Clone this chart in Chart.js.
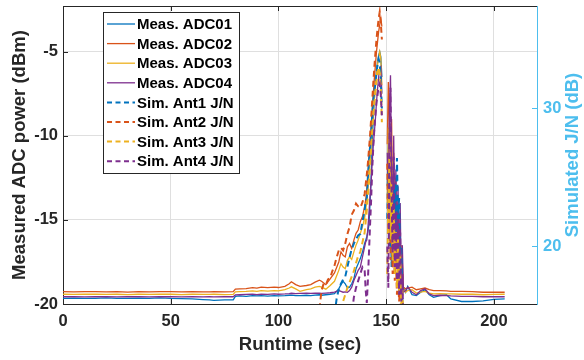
<!DOCTYPE html>
<html>
<head>
<meta charset="utf-8">
<script src="https://cdn.jsdelivr.net/npm/chart.js@4.4.1/dist/chart.umd.min.js"></script>
<style>
  html, body { margin: 0; padding: 0; background: #fff; }
  #wrap { width: 584px; height: 360px; position: relative; }
</style>
</head>
<body>
<div id="wrap"><canvas id="chart"></canvas></div>
<script>
// values
const runtime = [
  0, 5, 10, 15, 20, 25, 30, 35, 40, 45, 50, 55, 60, 65,
  68, 70, 75, 79, 80, 82, 85, 88, 90, 92, 95, 98, 100, 103, 105, 106, 108, 110, 113, 115, 117, 119, 120, 122, 124, 126, 128,
  129, 130, 131, 132, 133, 134, 135, 136, 137, 138, 139,
  140, 140.5, 141, 141.5, 142, 142.5, 143, 143.5, 144, 144.5,
  145, 145.5, 146, 146.5, 147, 147.5, 148, 148.5, 149, 149.5,
  150, 150.5, 151, 151.5, 152, 152.5, 153, 153.5, 154, 154.5,
  155, 155.5, 156, 156.5, 157, 157.5, 158,
  159, 160, 162, 164, 166, 168, 170, 172, 175, 178, 180, 185, 190, 195, 200, 205
];

// Meas. ADC01 (dBm)
const adc01 = [
  -19.66, -19.65, -19.67, -19.66, -19.64, -19.66, -19.67, -19.65, -19.66, -19.64, -19.67, -19.68, -19.70, -19.74,
  -19.76, -19.78, -19.76, -19.75, -19.55, -19.52, -19.55, -19.50, -19.52, -19.50, -19.53, -19.50, -19.52, -19.50, -19.48, -19.47, -19.50, -19.50, -19.48, -19.50, -19.47, -19.45, -19.48, -19.45, -19.42, -19.38, -19.10,
  -18.85, -18.65, -18.80, -19.05, -19.00, -18.80, -18.50, -17.90, -17.60, -17.30, -16.90,
  -16.4, -16.2, -16.0, -15.7, -15.3, -14.0, -12.5, -10.5, -9.0, -7.8,
  -6.9, -6.2, -5.6, -5.2, -5.0, -5.3, -6.5, null, null, null,
  null, -13.0, -10.5, -14.5, -11.5, -15.5, -12.5, -16.5, -13.0, -17.0,
  -14.0, -17.5, -15.5, -18.5, -17.0, -19.0, -19.0,
  -19.30, -18.95, -19.45, -19.50, -19.30, -19.15, -19.45, -19.60, -19.50, -19.45, -19.70, -19.85, -19.85, -19.82, -19.72, -19.70
];

// Meas. ADC02 (dBm)
const adc02 = [
  -19.27, -19.28, -19.27, -19.26, -19.28, -19.27, -19.29, -19.27, -19.28, -19.26, -19.27, -19.28, -19.27, -19.28,
  -19.28, -19.27, -19.28, -19.27, -19.12, -19.10, -19.08, -19.03, -19.05, -19.00, -19.03, -19.00, -19.02, -18.95, -18.80, -18.68, -18.85, -18.95, -18.90, -18.85, -18.70, -18.58, -18.65, -18.85, -18.50, -18.15, -17.50,
  -16.9, -17.1, -17.2, -16.6, -16.4, -16.7, -16.2, -15.8, -15.6, -15.1, -14.8,
  -14.2, -13.8, -13.2, -12.4, -11.5, -10.6, -9.6, -8.5, -7.6, -6.6,
  -5.8, -5.0, -4.4, -3.8, -3.4, -3.0, -3.5, null, null, null,
  null, -10.5, -6.8, -9.5, -12.5, -9.0, -14.0, -11.0, -16.0, -12.5,
  -17.0, -14.5, -18.0, -16.0, -18.8, -17.5, -19.0,
  -19.10, -19.05, -19.00, -19.15, -19.10, -19.05, -19.15, -19.20, -19.20, -19.22, -19.25, -19.25, -19.27, -19.30, -19.30, -19.30
];

// Meas. ADC03 (dBm)
const adc03 = [
  -19.42, -19.43, -19.42, -19.41, -19.43, -19.42, -19.44, -19.42, -19.43, -19.41, -19.42, -19.44, -19.42, -19.43,
  -19.43, -19.42, -19.44, -19.43, -19.28, -19.27, -19.25, -19.22, -19.25, -19.20, -19.23, -19.20, -19.22, -19.15, -19.05, -18.98, -19.10, -19.25, -19.15, -19.10, -19.00, -18.95, -19.00, -19.12, -18.90, -18.65, -18.00,
  -17.6, -17.8, -17.9, -17.4, -17.2, -17.35, -16.9, -16.5, -16.2, -15.8, -15.4,
  -14.9, -14.4, -13.8, -13.2, -12.4, -11.5, -10.5, -9.5, -8.6, -7.8,
  -7.0, -6.4, -5.8, -5.3, -5.0, -5.4, -7.0, null, null, null,
  null, -14.0, -9.5, -15.0, -10.5, -16.5, -11.5, -17.0, -12.5, -17.8,
  -13.5, -18.0, -14.5, -18.8, -16.5, -19.2, -19.1,
  -19.30, -19.20, -19.15, -19.35, -19.30, -19.25, -19.35, -19.40, -19.38, -19.40, -19.40, -19.42, -19.42, -19.45, -19.43, -19.42
];

// Meas. ADC04 (dBm)
const adc04 = [
  -19.57, -19.56, -19.58, -19.57, -19.56, -19.58, -19.57, -19.56, -19.58, -19.57, -19.56, -19.58, -19.57, -19.58,
  -19.57, -19.58, -19.57, -19.57, -19.46, -19.45, -19.43, -19.42, -19.44, -19.42, -19.43, -19.40, -19.42, -19.40, -19.38, -19.36, -19.38, -19.37, -19.36, -19.37, -19.35, -19.36, -19.37, -19.35, -19.33, -19.30, -19.20,
  -19.25, -19.30, -19.28, -19.30, -19.20, -19.00, -18.60, -18.30, -18.00, -17.80, -17.20,
  -16.6, -16.3, -16.2, -15.5, -14.6, -13.6, -12.8, -11.6, -10.6, -9.8,
  -9.0, -8.0, -7.2, -6.5, -6.0, -5.9, -7.5, null, null, null,
  null, -11.0, -14.5, -8.5, -6.4, -12.0, -15.5, -10.0, -16.5, -12.0,
  -17.5, -13.0, -18.2, -14.0, -18.8, -16.5, -19.3,
  -19.20, -19.00, -19.30, -19.45, -19.20, -19.10, -19.40, -19.50, -19.48, -19.50, -19.52, -19.55, -19.55, -19.57, -19.57, -19.57
];

const simTime = [
  118, 119, 120, 121, 122, 123, 124, 125, 126, 127, 128, 129, 130, 131, 132, 133, 134, 135, 136, 137, 138, 139,
  140, 140.5, 141, 141.5, 142, 142.5, 143, 143.5, 144, 144.5,
  145, 145.5, 146, 146.5, 147, 147.5, 148, 148.5, 149, 149.5,
  150, 150.5, 151, 151.5, 152, 152.5, 153, 153.5, 154, 154.5,
  155, 155.5, 156, 156.5, 157, 157.5, 158,
  159, 160
];

// Sim. Ant1..4 J/N (dB)
const simAnt1 = [
  14, 14, 14, 14, 14, 14, 14, 14, 15.0, 16.2, 16.9, 17.3, 17.6, 17.8, 18.5, 19.2, 19.8, 20.2, 20.5, 20.8, 20.9, 21.8,
  22.6, 23.3, 23.5, 25.0, 26.2, 27.2, 28.2, 29.5, 30.6, 31.3,
  31.8, 32.6, 33.2, 33.6, 33.3, 32.0, 30.0, null, null, null,
  null, 22.0, 25.5, 20.0, 24.0, 18.5, 22.5, 19.5, 24.5, 21.0,
  26.4, 22.0, 23.5, 18.0, 20.0, 16.0, 14.0,
  14, 14
];
const simAnt2 = [
  14, 15.5, 16.8, 17.3, 17.2, 17.6, 17.7, 18.2, 18.6, 19.2, 19.7, 19.9, 19.7, 20.2, 20.9, 21.4, 22.3, 22.6, 23.1, 22.9, 22.8, 23.2,
  23.8, 24.5, 25.2, 26.0, 27.0, 28.0, 29.2, 30.5, 31.8, 33.0,
  34.0, 35.0, 35.8, 36.5, 37.0, 36.2, 35.0, null, null, null,
  null, 26.0, 21.0, 24.5, 19.0, 22.5, 18.0, 21.0, 17.5, 19.5,
  16.5, 18.0, 16.0, 17.0, 15.0, 16.0, 14.0,
  14, 14
];
const simAnt3 = [
  14, 14, 14, 14, 14, 14, 14, 14, 14, 14, 14, 15.2, 16.0, 16.5, 17.0, 17.4, 17.8, 18.2, 18.8, 19.3, 19.6, 20.3,
  21.0, 21.8, 22.6, 23.6, 24.6, 25.8, 27.0, 28.2, 29.3, 30.3,
  31.2, 32.0, 32.6, 33.0, 32.6, 31.5, 29.0, null, null, null,
  null, 18.0, 23.0, 26.5, 20.5, 24.5, 19.0, 23.0, 18.0, 21.5,
  17.0, 20.5, 16.5, 19.5, 15.8, 17.0, 14.0,
  14, 14
];
const simAnt4 = [
  14, 14, 14, 14, 14, 14, 14, 14, 14, 14, 14, 14, 14, 14, 14, 14, 15.0, 16.3, 17.0, 17.5, 18.0, 18.5,
  18.3, 16.8, 15.9, 17.5, 19.5, 21.5, 23.3, 25.5, 27.2, 28.5,
  29.5, 30.4, 31.0, 31.6, 31.8, 31.0, 29.5, null, null, null,
  null, 20.0, 17.0, 27.0, 31.5, 24.0, 19.5, 26.5, 18.5, 22.5,
  17.5, 21.5, 16.5, 21.0, 16.0, 18.0, 14.0,
  14, 14
];

const seriesNames = ['Meas. ADC01', 'Meas. ADC02', 'Meas. ADC03', 'Meas. ADC04',
                     'Sim. Ant1 J/N', 'Sim. Ant2 J/N', 'Sim. Ant3 J/N', 'Sim. Ant4 J/N'];
const xTicks = [0, 50, 100, 150, 200];
const leftTicks = [-20, -15, -10, -5];
const rightTicks = [20, 30];

const colors = ['#0072BD', '#D95319', '#EDB120', '#7E2F8E'];
const rightColor = '#4DBEEE';
const axisColor = '#262626';
const gridColor = '#dfdfdf';
const FONT = '"Liberation Sans", Arial, Helvetica, sans-serif';

const pts = (xs, ys) => xs.map((x, i) => ({ x: x, y: ys[i] }));

const datasets = [];
[adc01, adc02, adc03, adc04].forEach((ys, k) => {
  datasets.push({
    label: seriesNames[k], data: pts(runtime, ys), yAxisID: 'y',
    borderColor: colors[k], borderWidth: 1.3, order: 7 - k
  });
});
[simAnt1, simAnt2, simAnt3, simAnt4].forEach((ys, k) => {
  datasets.push({
    label: seriesNames[k + 4], data: pts(simTime, ys), yAxisID: 'y2',
    borderColor: colors[k], borderWidth: 2, borderDash: [6, 4], order: 3 - k
  });
});

const fixTicks = list => scale => { scale.ticks = list.map(v => ({ value: v })); };
// no extra room for half tick labels at the plot edges
const noPad = size => s => {
  if (s.isHorizontal()) s.height = size; else s.width = size;
  s.paddingTop = 0; s.paddingBottom = 0; s.paddingLeft = 0; s.paddingRight = 0;
};

// box top edge, inward tick marks, right title and the legend
const extras = {
  id: 'extras',
  afterDraw(chart) {
    const { ctx, chartArea: a, scales } = chart;
    ctx.save();
    ctx.lineWidth = 1;
    ctx.strokeStyle = axisColor;
    ctx.beginPath();
    ctx.moveTo(a.left, a.top + 0.5); ctx.lineTo(a.right, a.top + 0.5);
    xTicks.forEach(v => {
      const px = Math.round(scales.x.getPixelForValue(v)) + 0.5;
      ctx.moveTo(px, a.bottom); ctx.lineTo(px, a.bottom - 5);
      ctx.moveTo(px, a.top); ctx.lineTo(px, a.top + 5);
    });
    leftTicks.forEach(v => {
      const py = Math.round(scales.y.getPixelForValue(v)) + 0.5;
      ctx.moveTo(a.left, py); ctx.lineTo(a.left + 5, py);
    });
    ctx.stroke();
    ctx.strokeStyle = rightColor;
    ctx.beginPath();
    rightTicks.forEach(v => {
      const py = Math.round(scales.y2.getPixelForValue(v)) + 0.5;
      ctx.moveTo(a.right, py); ctx.lineTo(a.right - 5, py);
    });
    ctx.stroke();

    // right axis title, reads bottom to top
    ctx.fillStyle = rightColor;
    ctx.font = 'bold 18.5px ' + FONT;
    ctx.textAlign = 'center';
    ctx.textBaseline = 'middle';
    ctx.translate(chart.width - 11, (a.top + a.bottom) / 2);
    ctx.rotate(-Math.PI / 2);
    ctx.fillText('Simulated J/N (dB)', 0, 0);
    ctx.setTransform(1, 0, 0, 1, 0, 0);

    // legend
    const bx = a.left + 40, by = a.top + 6, bw = 136, bh = 161, rowH = 19.6;
    ctx.fillStyle = '#fff';
    ctx.fillRect(bx, by, bw, bh);
    ctx.strokeStyle = axisColor;
    ctx.strokeRect(bx + 0.5, by + 0.5, bw, bh);
    ctx.font = 'bold 15px ' + FONT;
    ctx.textAlign = 'left';
    chart.data.datasets.forEach((ds, i) => {
      const ry = by + 12 + i * rowH;
      ctx.strokeStyle = ds.borderColor;
      ctx.lineWidth = ds.borderDash ? 2 : 1.3;
      ctx.setLineDash(ds.borderDash ? [5, 3.5] : []);
      ctx.beginPath();
      ctx.moveTo(bx + 4, ry); ctx.lineTo(bx + 32, ry);
      ctx.stroke();
      ctx.setLineDash([]);
      ctx.fillStyle = '#000';
      ctx.fillText(ds.label, bx + 34, ry + 1);
    });
    ctx.restore();
  }
};

new Chart(document.getElementById('chart'), {
  type: 'line',
  data: { datasets: datasets },
  options: {
    responsive: true,
    maintainAspectRatio: false,
    animation: false,
    layout: { padding: { top: 6, left: 0, right: 0, bottom: 0 } },
    elements: { point: { radius: 0 }, line: { tension: 0, fill: false } },
    spanGaps: false,
    plugins: { legend: { display: false }, tooltip: { enabled: false } },
    scales: {
      x: {
        type: 'linear', min: 0, max: 220,
        afterBuildTicks: fixTicks(xTicks),
        afterFit: noPad(56),
        grid: { color: c => (c.tick && c.tick.value === 0 ? 'rgba(0,0,0,0)' : gridColor), drawTicks: false },
        border: { color: axisColor, width: 1 },
        ticks: { color: axisColor, font: { family: FONT, size: 16.5, weight: 'bold' }, padding: 8, maxRotation: 0 },
        title: { display: true, text: 'Runtime (sec)', color: axisColor,
                 font: { family: FONT, size: 18.5, weight: 'bold' }, padding: { top: 0, bottom: 4 } }
      },
      y: {
        type: 'linear', position: 'left', min: -20, max: -2.28,
        afterBuildTicks: fixTicks(leftTicks),
        afterFit: noPad(63),
        grid: { color: c => (c.tick && c.tick.value === -20 ? 'rgba(0,0,0,0)' : gridColor), drawTicks: false },
        border: { color: axisColor, width: 1 },
        ticks: { color: axisColor, font: { family: FONT, size: 16.5, weight: 'bold' }, padding: 5 },
        title: { display: true, text: 'Measured ADC power (dBm)', color: axisColor,
                 font: { family: FONT, size: 18.5, weight: 'bold' }, padding: { top: 9, bottom: 0 } }
      },
      y2: {
        type: 'linear', position: 'right', min: 15.82, max: 37.43,
        afterBuildTicks: fixTicks(rightTicks),
        afterFit: noPad(47),
        grid: { drawOnChartArea: false, drawTicks: false },
        border: { color: rightColor, width: 1 },
        ticks: { color: rightColor, font: { family: FONT, size: 16.5, weight: 'bold' }, padding: 6 }
      }
    }
  },
  plugins: [extras]
});
</script>
</body>
</html>
